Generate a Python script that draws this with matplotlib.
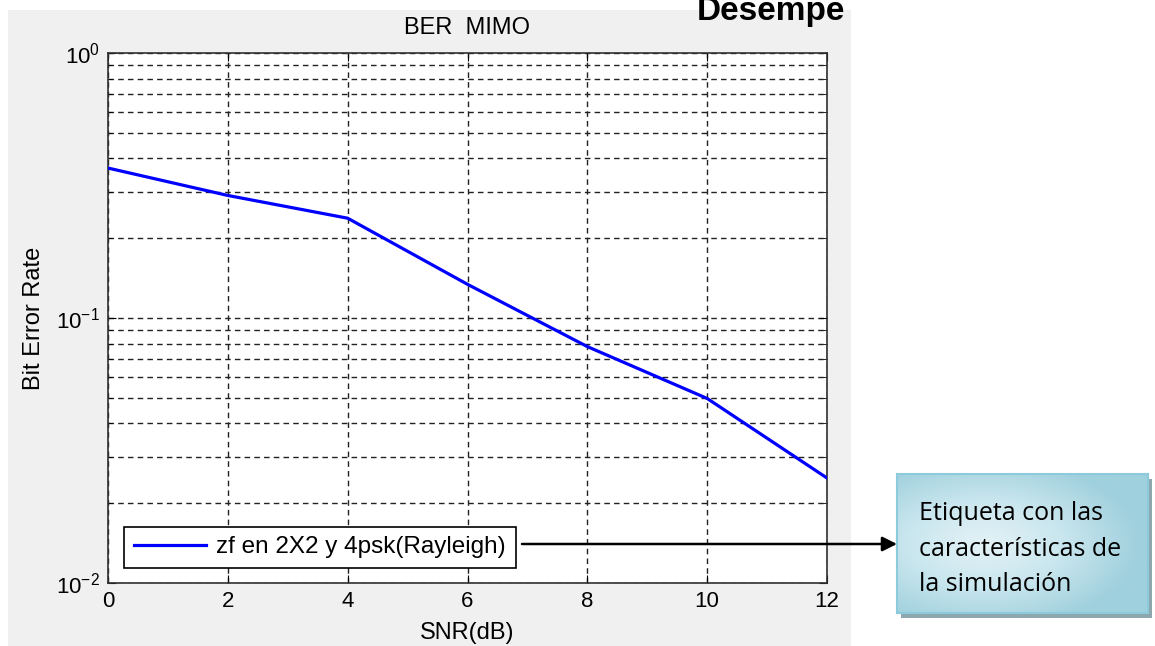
import numpy as np
import matplotlib.pyplot as plt
import matplotlib as mp
from matplotlib.patches import Rectangle
from matplotlib.colors import LinearSegmentedColormap

mp.rcParams['font.family'] = ['Liberation Sans', 'DejaVu Sans']
mp.rcParams['mathtext.fontset'] = 'custom'
mp.rcParams['mathtext.rm'] = 'Liberation Sans'
mp.rcParams['mathtext.it'] = 'Liberation Sans'

# BER curve
snr_db = [0, 2, 4, 6, 8, 10, 12]
ber = [0.368, 0.29, 0.238, 0.134, 0.078, 0.0497, 0.0249]
legend_label = "zf en 2X2 y 4psk(Rayleigh)"
callout_text = "Etiqueta con las\ncaracterísticas de\nla simulación"

fsize = 17
tsize = 16
W, H = 1155, 646
fig = plt.figure(figsize=(W / 100, H / 100), dpi=100)
fig.patch.set_facecolor("white")

# grey matlab figure area
fig.patches.append(Rectangle((8 / W, 0), (851 - 8) / W, (646 - 10) / H,
                             transform=fig.transFigure, facecolor="#f0f0f0",
                             edgecolor="none", zorder=-5))

ax = fig.add_axes([108 / W, 1 - 583 / H, (827 - 108) / W, (583 - 53) / H])
ax.set_zorder(2)
ax.plot(snr_db, ber, color=(0, 0, 1), lw=2.3, label=legend_label, zorder=3)
ax.set_yscale("log")
ax.set_xlim(0, 12)
ax.set_ylim(1e-2, 1)
ax.set_xticks([0, 2, 4, 6, 8, 10, 12])
ax.set_yticks([1e-2, 1e-1, 1])
ax.set_yticklabels([r"$10^{-2}$", r"$10^{-1}$", r"$10^{0}$"])
ax.grid(True, which="major", axis="both", color="#222222", ls=(0, (4, 3)), lw=1.0)
ax.grid(True, which="minor", axis="y", color="#222222", ls=(0, (4, 3)), lw=1.0)
ax.tick_params(which="both", direction="in", top=True, right=True,
               labelsize=tsize, colors="black")
ax.tick_params(which="major", length=6, pad=6)
ax.tick_params(which="minor", length=3)
for s in ax.spines.values():
    s.set_linewidth(1.2)
    s.set_color("#303030")

ax.set_title("BER  MIMO", fontsize=fsize, pad=14)
ax.set_xlabel("SNR(dB)", fontsize=fsize, labelpad=7)
ax.set_ylabel("Bit Error Rate", fontsize=fsize, labelpad=8)

leg = ax.legend(loc="lower left", bbox_to_anchor=(0.022, 0.028), borderaxespad=0,
                fontsize=17.5, fancybox=False, framealpha=1, edgecolor="black",
                handlelength=3.0, handletextpad=0.4, borderpad=0.4)
leg.get_frame().set_linewidth(1.2)

# partly cropped heading
fig.text(697 / W, 1 - 20 / H, "Desempe", fontsize=24, fontweight="bold",
         ha="left", va="baseline", zorder=5)

# arrow from legend to callout
fig.patches.append(mp.patches.FancyArrowPatch(
    (522 / W, 1 - 544 / H), (897 / W, 1 - 544 / H), transform=fig.transFigure,
    arrowstyle="-|>", color="black", lw=1.8, mutation_scale=22,
    shrinkA=0, shrinkB=0, zorder=4))

# callout box with shadow and gradient
bx0, by0, bx1, by1 = 897, 474, 1148, 613
fig.patches.append(Rectangle(((bx0 + 4) / W, 1 - (by1 + 5) / H), (bx1 - bx0) / W,
                             (by1 - by0) / H, transform=fig.transFigure,
                             facecolor="#8ea6ae", edgecolor="none", zorder=-4))
bax = fig.add_axes([bx0 / W, 1 - by1 / H, (bx1 - bx0) / W, (by1 - by0) / H])
bax.set_zorder(3)
cmap = LinearSegmentedColormap.from_list("cb", ["#e3f2f6", "#c9e6ee", "#9fd0dd"])
gx, gy = np.meshgrid(np.linspace(0, 1, 200), np.linspace(0, 1, 100))
grad = np.clip(((gx - 0.35) ** 2 + (gy - 0.5) ** 2) ** 0.5 * 1.6, 0, 1)
bax.imshow(grad, cmap=cmap, aspect="auto", extent=[0, 1, 0, 1])
bax.set_xticks([])
bax.set_yticks([])
for s in bax.spines.values():
    s.set_color("#8ccbdc")
    s.set_linewidth(1.5)
bax.text(22 / (bx1 - bx0), 0.46, callout_text, transform=bax.transAxes, fontsize=18,
         family=["Open Sans", "DejaVu Sans"], va="center", ha="left",
         linespacing=1.55)

fig.savefig("out.png", dpi=100)
